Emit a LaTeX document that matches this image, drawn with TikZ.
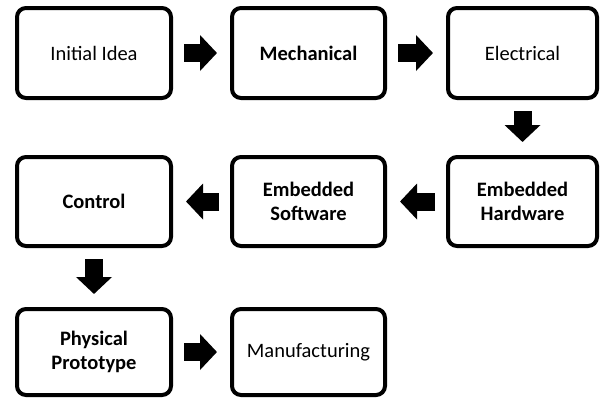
\documentclass[tikz,border=0pt]{standalone}
\usepackage{fontspec}
\setmainfont{Carlito}
\usetikzlibrary{arrows.meta}
\begin{document}
\begin{tikzpicture}[x=1pt,y=-1pt,
  stage/.style={draw=black, line width=4pt, rounded corners=9pt, fill=white,
    align=center, inner sep=2pt, font=\fontsize{20.5}{24}\selectfont},
  col1/.style={minimum width=154pt},
  col2/.style={minimum width=153pt},
  col3/.style={minimum width=149pt},
  blockarrow/.style={draw=black, line width=18pt,
    -{Triangle[length=17pt,width=35pt]}, shorten <=11pt, shorten >=13pt}]
\useasboundingbox (0,0) rectangle (601,397);

% first row
\node[stage, col1, minimum height=90pt] (idea) at (94,53) {Initial Idea};
\node[stage, col2, minimum height=90pt] (mech) at (308.5,53) {\textbf{Mechanical}};
\node[stage, col3, minimum height=90pt] (elec) at (522.5,53) {Electrical};

% second row
\node[stage, col3, minimum height=89pt] (ehw) at (522.5,201.5) {\textbf{Embedded}\\\textbf{Hardware}};
\node[stage, col2, minimum height=89pt] (esw) at (308.5,201.5) {\textbf{Embedded}\\\textbf{Software}};
\node[stage, col1, minimum height=89pt] (ctrl) at (94,201.5) {\textbf{Control}};

% third row
\node[stage, col1, minimum height=86pt] (proto) at (94,352) {\textbf{Physical}\\\textbf{Prototype}};
\node[stage, col2, minimum height=86pt] (manu) at (308.5,352) {Manufacturing};

% block arrows
\draw[blockarrow] (idea.east) -- (mech.west);
\draw[blockarrow] (mech.east) -- (elec.west);
\draw[blockarrow] (elec.south) -- (ehw.north);
\draw[blockarrow] (ehw.west) -- (esw.east);
\draw[blockarrow] (esw.west) -- (ctrl.east);
\draw[blockarrow] (ctrl.south) -- (proto.north);
\draw[blockarrow] (proto.east) -- (manu.west);
\end{tikzpicture}
\end{document}
